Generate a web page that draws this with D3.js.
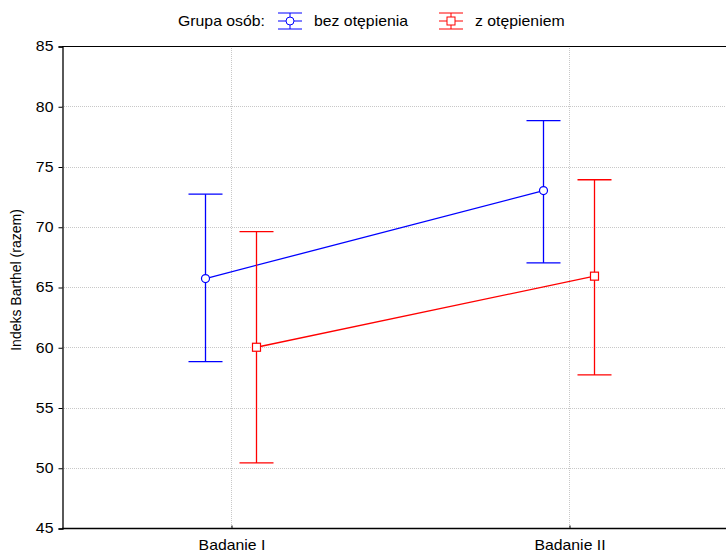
<!DOCTYPE html>
<html><head><meta charset="utf-8">
<script src="https://cdn.jsdelivr.net/npm/d3@7"></script>
<style>body{margin:0;background:#fff}svg{display:block;font-family:"Liberation Sans",Arial,sans-serif}</style>
</head><body><svg id="c" width="726" height="554"></svg>
<script>
const categories = ["Badanie I", "Badanie II"];
const groups = ["bez otępienia", "z otępieniem"];
const meansBez = [65.7, 73.0];
const lowerBez = [58.8, 67.0];
const upperBez = [72.7, 78.8];
const meansZ = [60.0, 65.9];
const lowerZ = [50.4, 57.7];
const upperZ = [69.6, 73.9];
const yTicks = [45, 50, 55, 60, 65, 70, 75, 80, 85];
const legendTitle = "Grupa osób:";
const yTitle = "Indeks Barthel (razem)";

const svg = d3.select("#c");
const L = 62, T = 46, B = 528, R = 738;
const FS = 14, SX = 1.13;
const x = d3.scalePoint().domain(categories).range([L, R]).padding(0.5);
const y = d3.scaleLinear().domain([45, 85]).range([B, T]);
const off = d3.scalePoint().domain(groups).range([-25.5, 25.5]);
const colors = {"bez otępienia": "#0000ff", "z otępieniem": "#ff0000"};

const series = [
  {name: groups[0], m: meansBez, lo: lowerBez, hi: upperBez, shape: "circle"},
  {name: groups[1], m: meansZ, lo: lowerZ, hi: upperZ, shape: "square"}
];

// grid
const g = svg.append("g");
g.selectAll(".hg").data(yTicks.filter(t => t > 45 && t < 85)).join("line")
  .attr("x1", L).attr("x2", 726).attr("y1", d => Math.round(y(d)) + 0.5).attr("y2", d => Math.round(y(d)) + 0.5)
  .attr("stroke", "#c8c8c8").attr("stroke-width", 1).attr("stroke-dasharray", "1,1");
g.selectAll(".vg").data(categories).join("line")
  .attr("x1", d => Math.round(x(d)) + 0.5).attr("x2", d => Math.round(x(d)) + 0.5)
  .attr("y1", T).attr("y2", B)
  .attr("stroke", "#c8c8c8").attr("stroke-width", 1).attr("stroke-dasharray", "1,1");

// axes
const yAxis = d3.axisLeft(y).tickValues(yTicks).tickSize(4).tickPadding(4);
const ya = svg.append("g").attr("transform", `translate(${L + 0.5},0.5)`).call(yAxis);
ya.select(".domain").attr("stroke", "#000").attr("stroke-width", 1.3);
ya.selectAll("text").attr("font-size", FS).attr("fill", "#000").attr("transform", `scale(${SX},1)`);
const xAxis = d3.axisBottom(x).tickSize(-3).tickPadding(12);
const xa = svg.append("g").attr("transform", `translate(0.5,${B + 0.5})`).call(xAxis);
xa.select(".domain").remove();
xa.selectAll("text").attr("font-size", FS).attr("fill", "#000").attr("transform", `scale(${SX},1)`);
svg.append("line").attr("x1", L).attr("x2", 726).attr("y1", B + 0.5).attr("y2", B + 0.5).attr("stroke", "#000").attr("stroke-width", 1.5);
svg.append("line").attr("x1", L).attr("x2", 726).attr("y1", T + 0.5).attr("y2", T + 0.5).attr("stroke", "#000");

// series
series.forEach(s => {
  const c = colors[s.name];
  const px = i => x(categories[i]) + off(s.name);
  const sg = svg.append("g");
  categories.forEach((cat, i) => {
    const cx = px(i);
    sg.append("line").attr("x1", cx).attr("x2", cx).attr("y1", y(s.hi[i])).attr("y2", y(s.lo[i])).attr("stroke", c).attr("stroke-width", 1.3);
    [s.hi[i], s.lo[i]].forEach(v => sg.append("line").attr("x1", cx - 17).attr("x2", cx + 17).attr("y1", y(v)).attr("y2", y(v)).attr("stroke", c).attr("stroke-width", 1.3));
  });
  sg.append("path").datum(s.m).attr("fill", "none").attr("stroke", c).attr("stroke-width", 1.3)
    .attr("d", d3.line().x((d, i) => px(i)).y(d => y(d)));
  categories.forEach((cat, i) => {
    const cx = px(i), cy = y(s.m[i]);
    if (s.shape === "circle") sg.append("circle").attr("cx", cx).attr("cy", cy).attr("r", 4).attr("fill", "#fff").attr("stroke", c).attr("stroke-width", 1.2);
    else sg.append("rect").attr("x", cx - 4).attr("y", cy - 4).attr("width", 8).attr("height", 8).attr("fill", "#fff").attr("stroke", c).attr("stroke-width", 1.2);
  });
});

// y title
svg.append("text").attr("transform", "translate(21,280) rotate(-90)").attr("text-anchor", "middle")
  .attr("font-size", FS).text(yTitle);

// legend
const lg = svg.append("g");
const htext = (xx, yy, t) => lg.append("text").attr("transform", `translate(${xx},${yy}) scale(${SX},1)`).attr("font-size", FS).text(t);
htext(178, 26, legendTitle);
const legX = [290, 451], legT = [314, 475];
series.forEach((s, i) => {
  const c = colors[s.name], cx = legX[i], cy = 21;
  lg.append("line").attr("x1", cx).attr("x2", cx).attr("y1", cy - 8).attr("y2", cy + 8).attr("stroke", c);
  [cy - 8, cy + 8].forEach(yy => lg.append("line").attr("x1", cx - 12).attr("x2", cx + 12).attr("y1", yy).attr("y2", yy).attr("stroke", c));
  lg.append("line").attr("x1", cx - 12).attr("x2", cx + 12).attr("y1", cy).attr("y2", cy).attr("stroke", c);
  if (s.shape === "circle") lg.append("circle").attr("cx", cx).attr("cy", cy).attr("r", 4).attr("fill", "#fff").attr("stroke", c);
  else lg.append("rect").attr("x", cx - 4).attr("y", cy - 4).attr("width", 8).attr("height", 8).attr("fill", "#fff").attr("stroke", c);
  htext(legT[i], 26, s.name);
});
</script></body></html>
